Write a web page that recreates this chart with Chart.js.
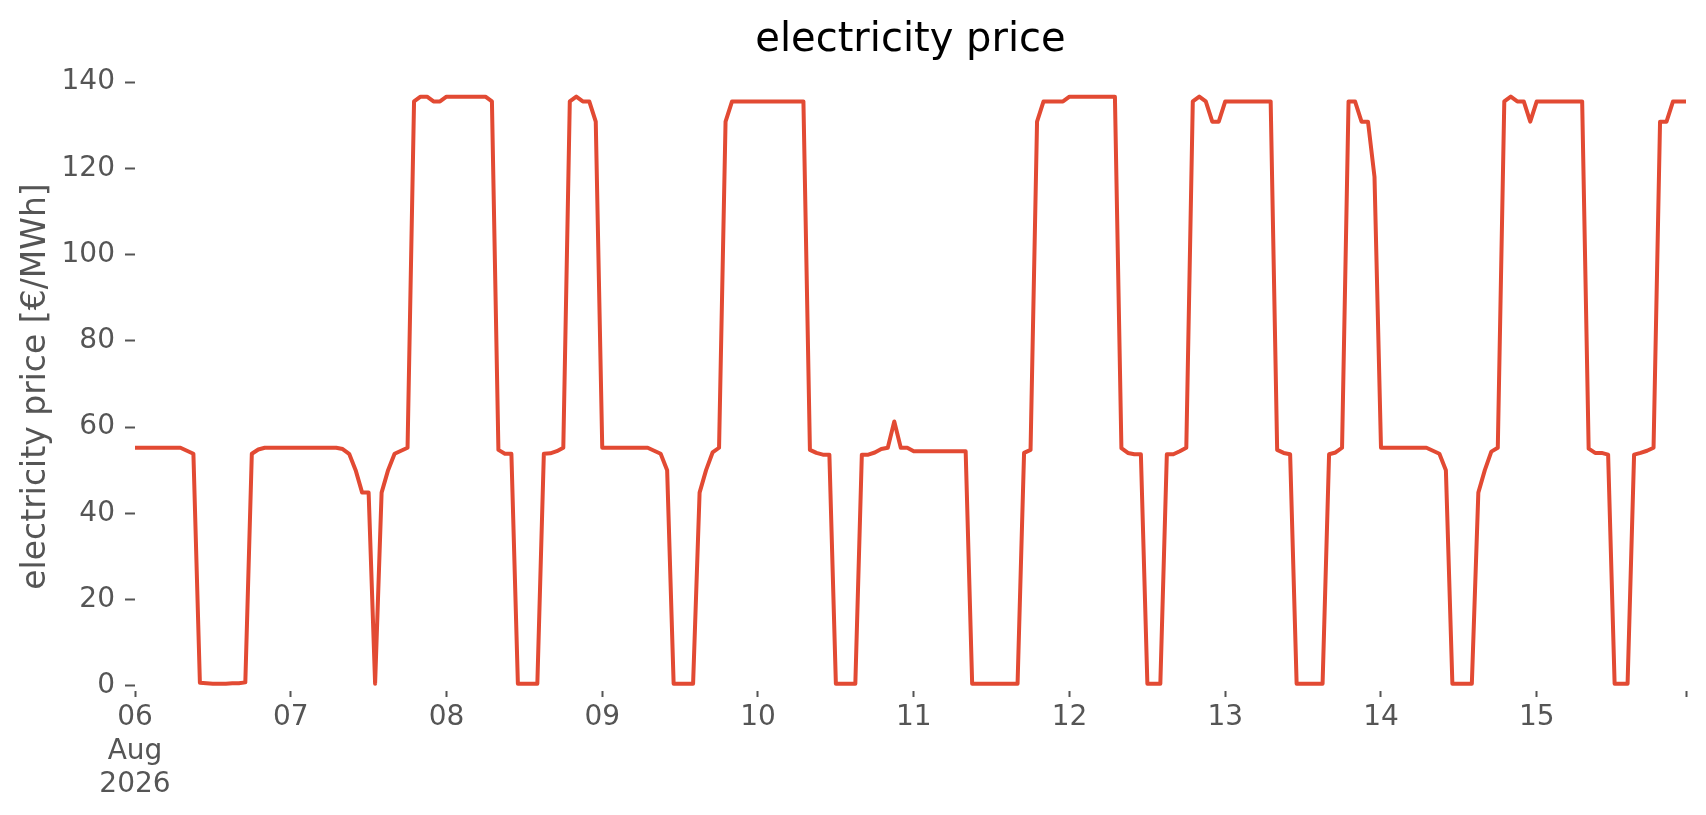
<!DOCTYPE html>
<html>
<head>
<meta charset="utf-8">
<title>electricity price</title>
<script src="https://cdn.jsdelivr.net/npm/chart.js@4"></script>
<style>
  html, body { margin: 0; padding: 0; background: #fff; }
  #chart { display: block; }
</style>
</head>
<body>
<canvas id="chart" width="1706" height="815"></canvas>
<script>
// hourly prices, one array per day (00:00 .. 23:00)
const day06 = [55.2, 55.2, 55.2, 55.2, 55.2, 55.2, 55.2, 55.2, 54.5, 53.8, 0.7, 0.6, 0.5, 0.5, 0.5, 0.6, 0.6, 0.8, 53.8, 54.8, 55.2, 55.2, 55.2, 55.2];
const day07 = [55.2, 55.2, 55.2, 55.2, 55.2, 55.2, 55.2, 55.2, 54.9, 53.8, 50.0, 44.8, 44.8, 0.5, 44.8, 50.0, 53.8, 54.5, 55.2, 135.5, 136.6, 136.6, 135.5, 135.5];
const day08 = [136.6, 136.6, 136.6, 136.6, 136.6, 136.6, 136.6, 135.5, 54.7, 53.8, 53.8, 0.5, 0.5, 0.5, 0.5, 53.8, 53.9, 54.4, 55.2, 135.5, 136.6, 135.5, 135.5, 130.8];
const day09 = [55.2, 55.2, 55.2, 55.2, 55.2, 55.2, 55.2, 55.2, 54.5, 53.8, 50.0, 0.5, 0.5, 0.5, 0.5, 44.8, 50.0, 54.1, 55.2, 130.8, 135.5, 135.5, 135.5, 135.5];
const day10 = [135.5, 135.5, 135.5, 135.5, 135.5, 135.5, 135.5, 135.5, 54.7, 54.0, 53.6, 53.6, 0.5, 0.5, 0.5, 0.5, 53.6, 53.6, 54.1, 54.9, 55.2, 61.3, 55.2, 55.2];
const day11 = [54.4, 54.4, 54.4, 54.4, 54.4, 54.4, 54.4, 54.4, 54.4, 0.5, 0.5, 0.5, 0.5, 0.5, 0.5, 0.5, 0.5, 54.0, 54.7, 130.8, 135.5, 135.5, 135.5, 135.5];
const day12 = [136.6, 136.6, 136.6, 136.6, 136.6, 136.6, 136.6, 136.6, 55.1, 54.0, 53.7, 53.7, 0.5, 0.5, 0.5, 53.7, 53.7, 54.4, 55.2, 135.5, 136.6, 135.5, 130.8, 130.8];
const day13 = [135.5, 135.5, 135.5, 135.5, 135.5, 135.5, 135.5, 135.5, 54.7, 54.0, 53.7, 0.5, 0.5, 0.5, 0.5, 0.5, 53.7, 54.1, 55.2, 135.5, 135.5, 130.8, 130.8, 118.0];
const day14 = [55.2, 55.2, 55.2, 55.2, 55.2, 55.2, 55.2, 55.2, 54.5, 53.8, 50.0, 0.5, 0.5, 0.5, 0.5, 44.8, 50.0, 54.3, 55.2, 135.5, 136.6, 135.5, 135.5, 130.8];
const day15 = [135.5, 135.5, 135.5, 135.5, 135.5, 135.5, 135.5, 135.5, 55.0, 54.0, 54.0, 53.6, 0.5, 0.5, 0.5, 53.6, 54.0, 54.5, 55.2, 130.8, 130.8, 135.5, 135.5, 135.5];

// x axis: hours since 06 Aug 2026 00:00
const xTickHours = [0, 24, 48, 72, 96, 120, 144, 168, 192, 216, 239];
const xTickLabels = [['06', 'Aug', '2026'], '07', '08', '09', '10', '11', '12', '13', '14', '15', ''];
const yTicks = [0, 20, 40, 60, 80, 100, 120, 140];

const prices = [].concat(day06, day07, day08, day09, day10, day11, day12, day13, day14, day15);
const points = prices.map((v, i) => ({ x: i, y: v }));

const FONT = 'DejaVu Sans';
const GREY = '#555555';

new Chart(document.getElementById('chart').getContext('2d'), {
    type: 'line',
    data: {
        datasets: [{
            label: 'electricity price',
            data: points,
            borderColor: '#E24A33',
            borderWidth: 4,
            borderJoinStyle: 'round',
            pointRadius: 0,
            tension: 0,
            fill: false
        }]
    },
    options: {
        responsive: false,
        animation: false,
        layout: {
            padding: { left: 0, right: 20, top: 0, bottom: 0 }
        },
        plugins: {
            legend: { display: false },
            tooltip: { enabled: false },
            title: {
                display: true,
                text: 'electricity price',
                color: '#000000',
                fullSize: false,
                font: { family: FONT, size: 40, weight: 'normal' },
                padding: { top: 17, bottom: 17 }
            }
        },
        scales: {
            x: {
                type: 'linear',
                min: 0,
                max: 239,
                border: { display: false },
                grid: {
                    display: true,
                    drawOnChartArea: false,
                    drawTicks: true,
                    tickLength: 6,
                    tickColor: GREY,
                    tickWidth: 2
                },
                afterBuildTicks: scale => {
                    scale.ticks = xTickHours.map(v => ({ value: v }));
                },
                afterFit: scale => {
                    scale.height = 124;
                },
                ticks: {
                    autoSkip: false,
                    maxRotation: 0,
                    minRotation: 0,
                    padding: 4,
                    color: GREY,
                    font: { family: FONT, size: 28 },
                    callback: (value, index) => xTickLabels[index]
                }
            },
            y: {
                type: 'linear',
                min: -1.2,
                max: 140,
                border: { display: false },
                grid: {
                    display: true,
                    drawOnChartArea: false,
                    drawTicks: true,
                    tickLength: 10,
                    tickColor: GREY,
                    tickWidth: 2
                },
                afterBuildTicks: scale => {
                    scale.ticks = yTicks.map(v => ({ value: v }));
                },
                afterFit: scale => {
                    scale.width = 135;
                },
                ticks: {
                    padding: 10,
                    color: GREY,
                    font: { family: FONT, size: 28 }
                },
                title: {
                    display: true,
                    text: 'electricity price [€/MWh]',
                    color: GREY,
                    font: { family: FONT, size: 33 },
                    padding: { top: 17, bottom: 0 }
                }
            }
        }
    }
});
</script>
</body>
</html>
